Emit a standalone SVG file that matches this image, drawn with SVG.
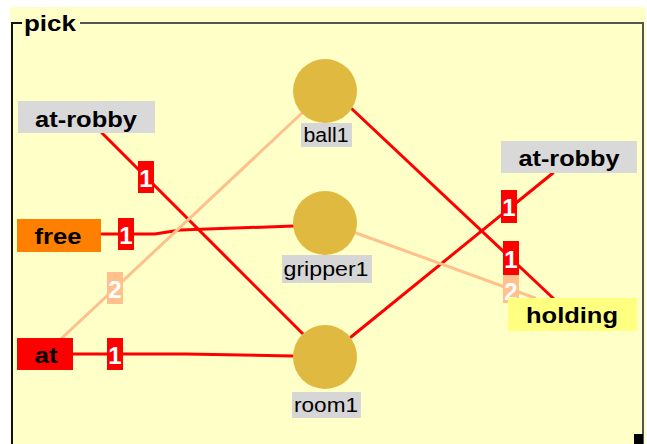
<svg xmlns="http://www.w3.org/2000/svg" width="647" height="444" viewBox="0 0 647 444">
  <style>
    .bold { font-family: "Liberation Sans", Arial, sans-serif; font-weight: bold; font-size: 22px; fill: #000; text-anchor: middle; }
    .obj { font-family: "Liberation Sans", Arial, sans-serif; font-size: 20px; fill: #000; text-anchor: middle; }
    .num { font-family: "Liberation Sans", Arial, sans-serif; font-weight: bold; font-size: 24px; fill: #fff; text-anchor: middle; }
    .ball { fill: #E0BA40; }
    .objlbl { fill: #D6D6D6; }
    .edge { fill: none; stroke-width: 3; stroke-linecap: round; }
    .red { stroke: #FF0000; }
    .peach { stroke: #FFC08C; }
    .tagred { fill: #FF0000; }
    .tagpeach { fill: #FFC08C; }
  </style>

  <!-- frame -->
  <rect x="0" y="0" width="647" height="444" fill="#ffffff"/>
  <rect x="10" y="7" width="636" height="437" fill="#FFFFC8"/>
  <polyline points="22,23 12,23 12,444" fill="none" stroke="#111" stroke-width="2"/>
  <polyline points="80,23 643,23 643,444" fill="none" stroke="#555" stroke-width="2"/>
  <rect x="634" y="434" width="9" height="10" fill="#000"/>
  <text x="24" y="31" class="bold" style="text-anchor:start" font-size="21" textLength="52" lengthAdjust="spacingAndGlyphs">pick</text>

  <!-- connectors -->
  <g id="connectors">
    <line class="edge red" x1="102" y1="133" x2="304" y2="335"/>
    <polyline class="edge red" points="100,234 155,234 180,230 294,226"/>
    <polyline class="edge red" points="73,354 185,354 293,356"/>
    <line class="edge peach" x1="62" y1="338" x2="302" y2="113"/>
    <line class="edge red" x1="352" y1="109" x2="554" y2="299"/>
    <line class="edge red" x1="351" y1="337" x2="553" y2="173"/>
    <line class="edge peach" x1="356" y1="233" x2="535" y2="298"/>

    <rect class="tagred" x="138" y="161" width="16" height="32"/>
    <text class="num" x="146" y="187">1</text>
    <rect class="tagred" x="118" y="218" width="16" height="32"/>
    <text class="num" x="126" y="244">1</text>
    <rect class="tagpeach" x="107" y="272" width="16" height="32"/>
    <text class="num" x="115" y="298">2</text>
    <rect class="tagred" x="107" y="338" width="16" height="32"/>
    <text class="num" x="115" y="364">1</text>
    <rect class="tagred" x="501" y="190" width="16" height="33"/>
    <text class="num" x="509" y="216">1</text>
    <rect class="tagred" x="503" y="241" width="16" height="34"/>
    <text class="num" x="511" y="268">1</text>
    <rect class="tagpeach" x="503" y="275" width="16" height="28"/>
    <text class="num" x="511" y="300">2</text>
  </g>

  <!-- predicate nodes -->
  <g id="at-robby-left">
    <rect x="18" y="101" width="137" height="32" fill="#D9D9D9"/>
    <text class="bold" x="86" y="127" textLength="102" lengthAdjust="spacingAndGlyphs">at-robby</text>
  </g>
  <g id="free">
    <rect x="17" y="219" width="84" height="33" fill="#FF8000"/>
    <text class="bold" x="58" y="244" textLength="47" lengthAdjust="spacingAndGlyphs">free</text>
  </g>
  <g id="at">
    <rect x="17" y="338" width="56" height="32" fill="#FF0000"/>
    <text class="bold" x="46" y="363" textLength="23" lengthAdjust="spacingAndGlyphs">at</text>
  </g>
  <g id="at-robby-right">
    <rect x="501" y="141" width="136" height="32" fill="#D9D9D9"/>
    <text class="bold" x="569" y="166" textLength="101" lengthAdjust="spacingAndGlyphs">at-robby</text>
  </g>
  <g id="holding">
    <rect x="508" y="298" width="129" height="33" fill="#FFFF80"/>
    <text class="bold" x="572" y="323" textLength="92" lengthAdjust="spacingAndGlyphs">holding</text>
  </g>

  <!-- object nodes -->
  <g id="ball1">
    <circle class="ball" cx="325" cy="91" r="32"/>
    <rect class="objlbl" x="301" y="123" width="51" height="24"/>
    <text class="obj" x="326" y="142" textLength="45" lengthAdjust="spacingAndGlyphs">ball1</text>
  </g>
  <g id="gripper1">
    <circle class="ball" cx="325" cy="223" r="32"/>
    <rect class="objlbl" x="282" y="255" width="90" height="28"/>
    <text class="obj" x="326" y="276" textLength="85" lengthAdjust="spacingAndGlyphs">gripper1</text>
  </g>
  <g id="room1">
    <circle class="ball" cx="325" cy="357" r="32"/>
    <rect class="objlbl" x="292" y="392" width="69" height="26"/>
    <text class="obj" x="326" y="412" textLength="64" lengthAdjust="spacingAndGlyphs">room1</text>
  </g>
</svg>
